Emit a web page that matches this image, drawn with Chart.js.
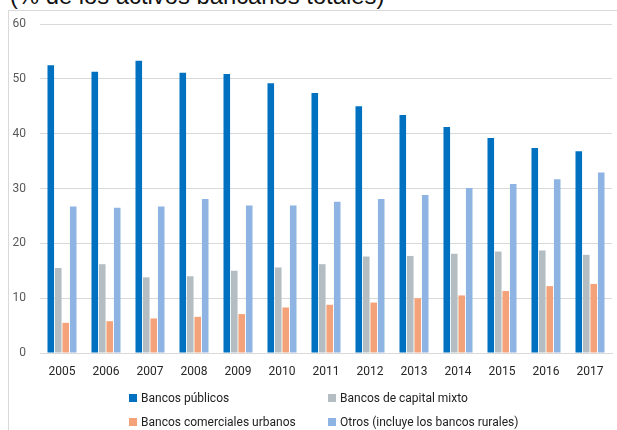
<!DOCTYPE html>
<html>
<head>
<meta charset="utf-8">
<script src="https://cdn.jsdelivr.net/npm/chart.js@4"></script>
<style>
  html, body { margin:0; padding:0; background:#fff; width:617px; height:430px; overflow:hidden; }
  body { position:relative; font-family:Roboto,"Liberation Sans",sans-serif; }
  #title { position:absolute; left:10px; top:-16px; font-size:23.8px; line-height:1; color:#111; white-space:nowrap; font-family:"Liberation Sans","DejaVu Sans",sans-serif; }
  #frame { position:absolute; left:8px; top:10px; width:700px; height:500px; border-left:1px solid #d9d9d9; border-top:1px solid #d9d9d9; }
  #wrap { position:absolute; left:0; top:0; width:617px; height:430px; }
  #legend { position:absolute; left:129px; top:390px; display:grid; grid-template-columns:199px auto; row-gap:8px; font-size:12px; color:#222; }
  .item { display:flex; align-items:center; height:16px; white-space:nowrap; }
  .box { width:8px; height:8px; margin-right:4px; }
</style>
</head>
<body>
<div id="title">(% de los activos bancarios totales)</div>
<div id="frame"></div>
<div id="wrap"><canvas id="c" width="617" height="430"></canvas></div>
<div id="legend"></div>
<script>
const years = ["2005","2006","2007","2008","2009","2010","2011","2012","2013","2014","2015","2016","2017"];
const bancosPublicos   = [52.5, 51.3, 53.3, 51.1, 50.9, 49.2, 47.4, 45.0, 43.4, 41.2, 39.2, 37.4, 36.8];
const bancosMixto      = [15.5, 16.2, 13.8, 14.0, 15.0, 15.6, 16.2, 17.6, 17.7, 18.1, 18.5, 18.7, 17.9];
const bancosComerciales= [5.5, 5.8, 6.3, 6.6, 7.1, 8.3, 8.8, 9.2, 10.0, 10.5, 11.3, 12.2, 12.6];
const otros            = [26.7, 26.5, 26.7, 28.1, 26.9, 26.9, 27.6, 28.1, 28.8, 30.1, 30.8, 31.7, 32.9];
const yTicks = [0, 10, 20, 30, 40, 50, 60];

const seriesLabels = ["Bancos públicos", "Bancos de capital mixto", "Bancos comerciales urbanos", "Otros (incluye los bancos rurales)"];
const seriesColors = ["#0070C0", "#B4BEC2", "#F4A27A", "#8EB4E3"];
const seriesData = [bancosPublicos, bancosMixto, bancosComerciales, otros];

const datasets = seriesData.map((d, i) => ({
  label: seriesLabels[i],
  data: d,
  backgroundColor: seriesColors[i],
  borderWidth: 0,
  categoryPercentage: 0.68,
  barPercentage: 0.88
}));

const font = { family: "Roboto,'Liberation Sans',sans-serif", size: 12 };

new Chart(document.getElementById('c'), {
  type: 'bar',
  data: { labels: years, datasets },
  options: {
    responsive: false,
    animation: false,
    devicePixelRatio: 1,
    layout: { padding: { top: 24, right: 5, left: 0, bottom: 47 } },
    plugins: { legend: { display: false }, tooltip: { enabled: false } },
    scales: {
      x: {
        grid: { display: false, drawTicks: false },
        border: { display: true, color: '#d9d9d9' },
        ticks: { color: '#262626', font, padding: 12, maxRotation: 0 },
        afterFit(s) { s.height = 30; }
      },
      y: {
        min: 0, max: 60,
        afterBuildTicks(s) { s.ticks = yTicks.map(v => ({ value: v })); },
        grid: { color: '#d9d9d9', drawTicks: false },
        border: { display: false },
        ticks: { color: '#595959', font, padding: 14 },
        afterFit(s) { s.width = 40; }
      }
    }
  }
});

const leg = document.getElementById('legend');
seriesLabels.forEach((l, i) => {
  const it = document.createElement('div');
  it.className = 'item';
  const b = document.createElement('span');
  b.className = 'box';
  b.style.background = seriesColors[i];
  it.appendChild(b);
  it.appendChild(document.createTextNode(l));
  leg.appendChild(it);
});
</script>
</body>
</html>
